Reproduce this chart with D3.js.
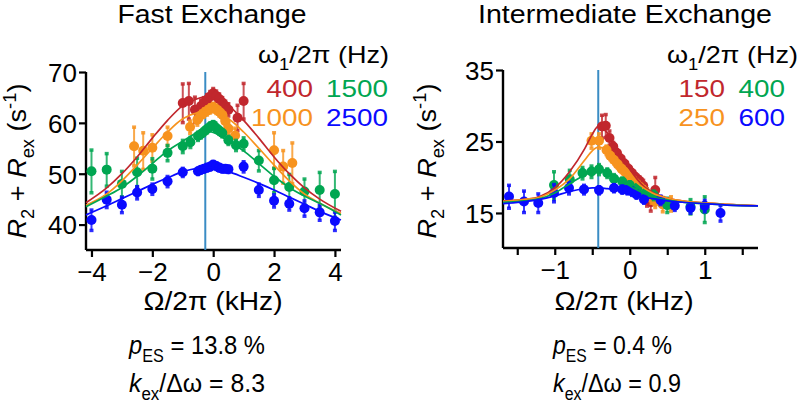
<!DOCTYPE html>
<html>
<head>
<meta charset="utf-8">
<script src="https://cdn.jsdelivr.net/npm/d3@7"></script>
<style>
  body { margin: 0; background: #fff; }
  text { font-family: "Liberation Sans", Arial, sans-serif; fill: #000; }
</style>
</head>
<body>
<svg id="chart" width="800" height="403"></svg>
<script>
// ---- Fast exchange panel (offset kHz, R2+Rex s-1, error) ----
var fastRedOff = [-1.0, -0.8, -0.6, -0.4, -0.3, -0.2, -0.1, 0, 0.1, 0.2, 0.3, 0.4, 0.5, 0.8, 1.0];
var fastRedR   = [63.9, 64.3, 62.6, 63.3, 64.0, 64.6, 65.2, 65.8, 65.3, 64.7, 64.0, 63.3, 62.6, 61.0, 64.3];
var fastRedErr = [3.8, 3.5, 2.5, 1.2, 1, 1, 1, 1, 1, 1, 1, 1, 1.2, 2.5, 3.5];

var fastOrangeOff = [-2.6, -2.3, -2.0, -1.5, -0.76, -0.52, -0.4, -0.3, -0.2, -0.1, 0, 0.1, 0.2, 0.3, 0.4, 0.5, 0.72, 2.0, 2.3, 2.6];
var fastOrangeR   = [55.4, 54.5, 55.1, 57.4, 59.2, 60.6, 61.5, 62.0, 62.4, 62.8, 63.1, 62.7, 62.2, 61.6, 60.3, 58.9, 57.5, 54.6, 51.4, 52.1];
var fastOrangeErr = [3.8, 3.6, 2.6, 1.8, 1.2, 1, 0.8, 0.8, 0.8, 0.8, 0.8, 0.8, 0.8, 0.8, 1, 1.2, 1.5, 3.5, 3.2, 4];

var fastGreenOff = [-4, -3.5, -3, -2.5, -2, -1.5, -1, -0.75, -0.5, -0.4, -0.3, -0.2, -0.1, 0, 0.1, 0.2, 0.3, 0.5, 0.75, 1, 1.5, 2, 2.5, 3, 3.5, 4];
var fastGreenR   = [50.5, 50.8, 48.0, 50.3, 51.0, 54.1, 55.4, 56.2, 57.4, 57.8, 58.3, 58.8, 59.3, 59.6, 59.0, 58.5, 58.0, 56.6, 55.6, 55.9, 52.6, 48.7, 47.4, 46.5, 46.8, 46.0];
var fastGreenErr = [4.2, 3.2, 2.5, 2.8, 2.0, 1.5, 1.2, 1, 0.8, 0.7, 0.7, 0.7, 0.7, 0.7, 0.7, 0.7, 0.7, 0.8, 1, 1.2, 2.0, 2.4, 2.5, 2.5, 3.5, 4.5];

var fastBlueOff = [-4, -3.5, -3, -2.5, -2, -1.5, -1, -0.5, -0.4, -0.3, -0.2, -0.1, 0, 0.1, 0.2, 0.3, 0.4, 0.5, 1, 1.5, 2, 2.5, 3, 3.5, 4];
var fastBlueR   = [40.9, 44.9, 43.9, 46.3, 47.0, 48.5, 50.3, 50.5, 50.8, 51.0, 51.2, 51.4, 51.8, 51.5, 51.2, 51.0, 51.0, 50.9, 51.4, 46.8, 44.7, 44.1, 43.2, 42.4, 40.7];
var fastBlueErr = [2, 1.5, 1.5, 1.2, 1, 1, 0.8, 0.6, 0.6, 0.6, 0.6, 0.6, 0.6, 0.6, 0.6, 0.6, 0.6, 0.6, 1, 1.2, 1.2, 1.2, 1.5, 1.5, 1.8];

// fitted curves
var fastFitOff    = [-4.18, -3.5, -3, -2.5, -2, -1.5, -1, -0.5, -0.26, 0, 0.5, 1, 1.5, 2, 2.5, 3, 3.5, 4.2];
var fastFitRed    = [44.3, 47.2, 50.0, 53.3, 57.0, 60.5, 63.4, 64.8, 65.1, 64.8, 63.4, 60.5, 57.0, 53.3, 50.0, 47.2, 45.0, 42.6];
var fastFitOrange = [43.8, 46.0, 48.6, 51.7, 55.0, 58.2, 60.8, 62.0, 62.2, 62.0, 60.8, 58.2, 55.0, 51.7, 48.6, 46.0, 44.2, 42.2];
var fastFitGreen  = [43.5, 45.6, 47.3, 49.5, 52.0, 54.5, 56.4, 58.1, 58.4, 58.1, 56.4, 54.5, 52.0, 49.5, 47.3, 45.6, 44.2, 41.9];
var fastFitBlue   = [41.9, 43.7, 45.1, 46.5, 47.9, 49.2, 50.4, 51.1, 51.3, 51.1, 50.4, 49.3, 48.1, 46.8, 45.4, 44.0, 42.6, 40.9];

var fastLegend = ["400", "1000", "1500", "2500"];
var fastXTicks = [-4, -2, 0, 2, 4];
var fastYTicks = [40, 50, 60, 70];
var fastCenter = -0.26;

// ---- Intermediate exchange panel ----
var intRedOff = [-0.37, -0.32, -0.27, -0.22, -0.17, -0.12, -0.07, -0.02, 0.03, 0.08, 0.13, 0.18, 0.23, 0.28, 0.34];
var intRedR   = [27.1, 27.2, 25.5, 24.3, 23.4, 22.6, 21.9, 21.2, 20.6, 20.0, 19.5, 18.8, 17.2, 16.5, 18.2];
var intRedErr = [1.6, 1.6, 1.0, 0.6, 0.5, 0.5, 0.5, 0.5, 0.5, 0.5, 0.6, 0.8, 1.2, 1.2, 1.8];

var intOrangeOff = [-0.51, -0.41, -0.31, -0.26, -0.21, -0.16, -0.11, -0.06, -0.01, 0.04, 0.09, 0.14, 0.19, 0.24, 0.29, 0.34, 0.44, 0.55];
var intOrangeR   = [25.1, 25.1, 23.8, 23.0, 22.4, 21.8, 21.2, 20.7, 20.1, 19.6, 19.1, 18.6, 18.1, 17.6, 17.1, 16.6, 16.2, 16.3];
var intOrangeErr = [1, 1, 0.6, 0.5, 0.5, 0.5, 0.5, 0.5, 0.5, 0.5, 0.5, 0.5, 0.6, 0.6, 0.7, 0.8, 1, 1];

var intGreenOff = [-1.01, -0.8, -0.63, -0.51, -0.41, -0.3, -0.21, -0.1, 0, 0.1, 0.21, 0.32, 0.5, 0.81, 1.0];
var intGreenR   = [18.9, 19.7, 20.6, 20.8, 21.1, 20.6, 19.8, 19.4, 18.9, 18.5, 17.8, 17.5, 16.1, 15.9, 15.5];
var intGreenErr = [1.9, 1.3, 0.8, 0.8, 0.7, 0.6, 0.6, 0.5, 0.5, 0.5, 0.5, 0.6, 1, 1, 1.8];

var intBlueOff = [-1.61, -1.41, -1.22, -1.01, -0.81, -0.61, -0.41, -0.21, -0.1, -0.03, 0.03, 0.09, 0.19, 0.41, 0.6, 0.81, 1.0, 1.21];
var intBlueR   = [17.3, 16.6, 16.4, 17.8, 18.5, 18.3, 18.2, 18.5, 18.3, 18.2, 18.0, 17.6, 16.9, 16.8, 16.0, 15.7, 16.0, 15.0];
var intBlueErr = [1.6, 1.5, 1.3, 1.2, 0.8, 0.6, 0.5, 0.5, 0.5, 0.5, 0.5, 0.5, 0.5, 0.6, 0.6, 0.7, 0.8, 1.1];

var intFitOff    = [-1.69, -1.4, -1.2, -1.0, -0.8, -0.6, -0.5, -0.42, -0.3, -0.2, -0.1, 0, 0.1, 0.2, 0.3, 0.5, 0.7, 1.0, 1.3, 1.71];
var intFitRed    = [16.7, 16.9, 17.3, 18.5, 20.8, 24.0, 26.0, 27.1, 26.2, 24.6, 22.8, 21.1, 19.7, 18.6, 17.9, 17.1, 16.7, 16.4, 16.2, 16.0];
var intFitOrange = [16.6, 16.9, 17.2, 18.2, 19.8, 22.4, 23.7, 24.2, 23.8, 22.8, 21.6, 20.3, 19.2, 18.4, 17.8, 17.1, 16.7, 16.4, 16.2, 16.0];
var intFitGreen  = [16.5, 16.7, 17.0, 17.8, 19.1, 20.3, 20.8, 21.0, 20.7, 20.2, 19.5, 18.8, 18.2, 17.7, 17.3, 16.8, 16.5, 16.3, 16.1, 16.0];
var intFitBlue   = [16.3, 16.6, 16.9, 17.4, 18.0, 18.4, 18.5, 18.5, 18.4, 18.3, 18.0, 17.8, 17.5, 17.2, 17.0, 16.7, 16.5, 16.3, 16.1, 16.0];

var intLegend = ["150", "250", "400", "600"];
var intXTicks = [-1.5, -1, -0.5, 0, 0.5, 1, 1.5];
var intXLabels = [-1, 0, 1];
var intYTicks = [15, 25, 35];
var intCenter = -0.42;

var colors = ["#c1272d", "#f7931e", "#00a651", "#0a0aff"];

var svg = d3.select("#chart");

function zip(off, r, err) {
    return off.map(function(d, i) {
        return { x: d, y: r[i], e: err[i] };
    });
}

// text with italic letters and sub/superscripts
function richText(sel, parts, size) {
    var shift = 0;
    parts.forEach(function(p) {
        var t = sel.append("tspan").text(p.t);
        var want = p.sub ? size * 0.3 : (p.sup ? -size * 0.4 : 0);
        if (want != shift) {
            t.attr("dy", want - shift);
            shift = want;
        }
        if (p.sub || p.sup) t.attr("font-size", size * 0.68);
        if (p.i) t.attr("font-style", "italic");
    });
}

function panel(cfg) {
    var x = d3.scaleLinear().domain(cfg.xDomain).range(cfg.xRange);
    var y = d3.scaleLinear().domain(cfg.yDomain).range(cfg.yRange);
    var g = svg.append("g");

    // axes
    var xAxis = d3.axisBottom(x).tickValues(cfg.xTicks).tickSize(7)
        .tickFormat(function(d) {
            if (cfg.xLabels.indexOf(d) < 0) return "";
            return d < 0 ? "\u2212" + Math.abs(d) : d;
        });
    var yAxis = d3.axisLeft(y).tickValues(cfg.yTicks).tickSize(7);

    var gx = g.append("g").attr("transform", "translate(0," + cfg.yRange[0] + ")").call(xAxis);
    var gy = g.append("g").attr("transform", "translate(" + cfg.xRange[0] + ",0)").call(yAxis);
    [gx, gy].forEach(function(a) {
        a.select(".domain").attr("stroke", "#000").attr("stroke-width", 2.4);
        a.selectAll(".tick line").attr("stroke", "#000").attr("stroke-width", 2.2);
        a.selectAll("text").attr("font-size", 26).attr("font-family", "Liberation Sans, Arial, sans-serif").attr("fill", "#000");
    });
    gx.selectAll("text").attr("y", 13);
    gy.selectAll("text").attr("x", -9).attr("dy", "0.36em");
    gx.select(".domain").attr("d", "M" + cfg.xRange[0] + ",0H" + cfg.xRange[1]);
    gy.select(".domain").attr("d", "M0," + cfg.yRange[0] + "V" + cfg.yRange[1]);

    // centre line
    g.append("line")
        .attr("x1", x(cfg.center)).attr("x2", x(cfg.center))
        .attr("y1", cfg.yRange[1]).attr("y2", cfg.yRange[0])
        .attr("stroke", "#3a8cc4").attr("stroke-width", 2);

    // data with error bars
    cfg.series.forEach(function(s, k) {
        var sg = g.append("g");
        var pts = sg.selectAll("g").data(s).enter().append("g");
        pts.append("line")
            .attr("x1", function(d) { return x(d.x); })
            .attr("x2", function(d) { return x(d.x); })
            .attr("y1", function(d) { return y(d.y - d.e); })
            .attr("y2", function(d) { return y(d.y + d.e); })
            .attr("stroke", colors[k]).attr("stroke-width", 2).attr("stroke-opacity", 0.8);
        [-1, 1].forEach(function(sgn) {
            pts.append("rect")
                .attr("x", function(d) { return x(d.x) - 2; })
                .attr("y", function(d) { return y(d.y + sgn * d.e) - 1.5; })
                .attr("width", 4).attr("height", 3.5)
                .attr("fill", colors[k]).attr("fill-opacity", 0.85);
        });
        pts.append("circle")
            .attr("cx", function(d) { return x(d.x); })
            .attr("cy", function(d) { return y(d.y); })
            .attr("r", 5)
            .attr("fill", colors[k]);
    });

    // fits
    var line = d3.line()
        .x(function(d) { return x(d[0]); })
        .y(function(d) { return y(d[1]); })
        .curve(d3.curveMonotoneX);
    cfg.fits.forEach(function(f, k) {
        g.append("path")
            .datum(cfg.fitOff.map(function(o, i) { return [o, f[i]]; }))
            .attr("d", line)
            .attr("fill", "none")
            .attr("stroke", colors[k])
            .attr("stroke-width", 1.7);
    });

    // title
    g.append("text").attr("x", cfg.titleX).attr("y", 23)
        .attr("text-anchor", "middle").attr("font-size", 25)
        .attr("textLength", cfg.titleW).attr("lengthAdjust", "spacingAndGlyphs")
        .text(cfg.title);

    // legend
    var lh = g.append("text").attr("x", cfg.legRight).attr("y", 63)
        .attr("text-anchor", "end").attr("font-size", 24)
        .attr("textLength", 131).attr("lengthAdjust", "spacingAndGlyphs");
    richText(lh, [{ t: "\u03c9" }, { t: "1", sub: true }, { t: "/2\u03c0 (Hz)" }], 24);
    var legPos = [[0, 0], [0, 1], [1, 0], [1, 1]];
    cfg.legend.forEach(function(lab, k) {
        g.append("text")
            .attr("x", cfg.legCols[legPos[k][0]])
            .attr("y", 97 + legPos[k][1] * 29)
            .attr("text-anchor", "end").attr("font-size", 24)
            .attr("textLength", lab.length * 15.5).attr("lengthAdjust", "spacingAndGlyphs")
            .attr("fill", colors[k])
            .style("fill", colors[k])
            .text(lab);
    });

    // y label
    var yl = g.append("text")
        .attr("transform", "translate(" + cfg.yLabX + ",161) rotate(-90)")
        .attr("text-anchor", "middle").attr("font-size", 26)
        .attr("textLength", 155).attr("lengthAdjust", "spacingAndGlyphs");
    richText(yl, [{ t: "R", i: true }, { t: "2", sub: true }, { t: " + " }, { t: "R", i: true },
        { t: "ex", sub: true }, { t: " (s" }, { t: "-1", sup: true }, { t: ")" }], 26);

    // x label
    g.append("text").attr("x", cfg.xLabX).attr("y", 310)
        .attr("text-anchor", "middle").attr("font-size", 25)
        .attr("textLength", 139).attr("lengthAdjust", "spacingAndGlyphs")
        .text("\u03a9/2\u03c0 (kHz)");

    // parameters
    var p1 = g.append("text").attr("x", cfg.parX).attr("y", 354).attr("font-size", 26)
        .attr("textLength", cfg.parW[0]).attr("lengthAdjust", "spacingAndGlyphs");
    richText(p1, [{ t: "p", i: true }, { t: "ES", sub: true }, { t: " = " + cfg.pES + " %" }], 26);
    var p2 = g.append("text").attr("x", cfg.parX).attr("y", 392).attr("font-size", 26)
        .attr("textLength", cfg.parW[1]).attr("lengthAdjust", "spacingAndGlyphs");
    richText(p2, [{ t: "k", i: true }, { t: "ex", sub: true }, { t: "/\u0394\u03c9 = " + cfg.ratio }], 26);
}

panel({
    xDomain: [-4.18, 4.2], xRange: [86, 341],
    yDomain: [35, 70], yRange: [250, 72],
    xTicks: fastXTicks, xLabels: fastXTicks, yTicks: fastYTicks,
    center: fastCenter,
    series: [zip(fastRedOff, fastRedR, fastRedErr), zip(fastOrangeOff, fastOrangeR, fastOrangeErr),
             zip(fastGreenOff, fastGreenR, fastGreenErr), zip(fastBlueOff, fastBlueR, fastBlueErr)],
    fitOff: fastFitOff,
    fits: [fastFitRed, fastFitOrange, fastFitGreen, fastFitBlue],
    title: "Fast Exchange", titleX: 212, titleW: 189,
    legend: fastLegend, legRight: 389, legCols: [313, 388],
    yLabX: 26, xLabX: 213,
    parX: 129, parW: [136, 136], pES: "13.8", ratio: "8.3"
});

panel({
    xDomain: [-1.69, 1.71], xRange: [503, 758],
    yDomain: [10.1, 35], yRange: [248, 70],
    xTicks: intXTicks, xLabels: intXLabels, yTicks: intYTicks,
    center: intCenter,
    series: [zip(intRedOff, intRedR, intRedErr), zip(intOrangeOff, intOrangeR, intOrangeErr),
             zip(intGreenOff, intGreenR, intGreenErr), zip(intBlueOff, intBlueR, intBlueErr)],
    fitOff: intFitOff,
    fits: [intFitRed, intFitOrange, intFitGreen, intFitBlue],
    title: "Intermediate Exchange", titleX: 625, titleW: 294,
    legend: intLegend, legRight: 798, legCols: [725, 785],
    yLabX: 436, xLabX: 624,
    parX: 553, parW: [119, 128], pES: "0.4", ratio: "0.9"
});
</script>
</body>
</html>
